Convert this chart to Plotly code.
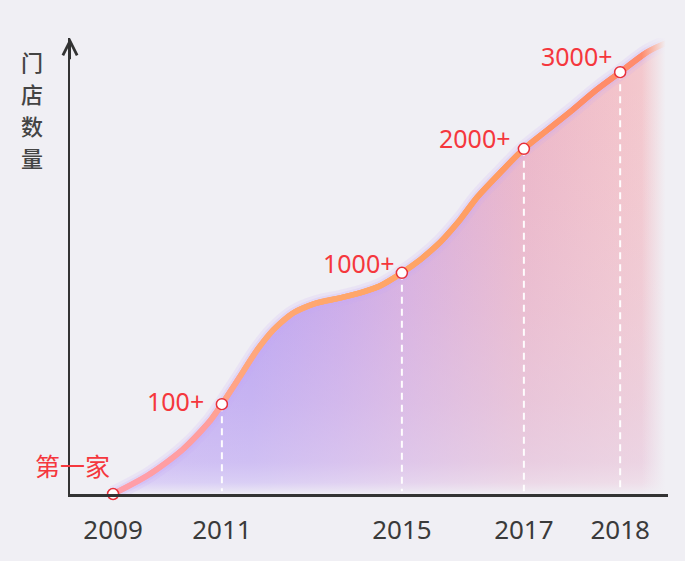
import plotly.graph_objects as go

# ---------------- data ----------------
years = ["2009", "2011", "2015", "2017", "2018"]
milestones = ["第一家", "100+", "1000+", "2000+", "3000+"]
# timeline position / display level of each milestone (0..100)
milestone_x = [7.2, 25.4, 55.5, 75.9, 92.0]
milestone_y = [0.0, 19.7, 48.5, 75.7, 92.5]

# points along the drawn growth curve
curve_x = [7.2, 13.4, 18.9, 23.4, 25.4, 28.4, 31.3, 34.0, 37.3, 41.3, 45.2, 48.5, 51.8,
           55.5, 58.5, 61.9, 65.2, 68.1, 71.9, 75.9, 79.8, 84.0, 88.0, 92.0, 96.5, 99.7]
curve_y = [0.0, 4.4, 9.8, 16.0, 19.7, 25.7, 31.6, 36.0, 39.7, 41.9, 43.0, 44.1, 45.6,
           48.5, 51.3, 55.2, 60.1, 65.1, 70.4, 75.7, 79.8, 84.2, 88.6, 92.5, 96.9, 98.9]

y_title_chars = ["门", "店", "数", "量"]

# ---------------- style ----------------
BG = "#f0eff4"
RED = "#f5373d"
AXIS = "#333333"
label_shift = [(-1, 28), (-16, 3), (-5, 10), (-11, 11), (-5, 16)]
line_stops = [(7, (255, 158, 178)), (24, (255, 158, 160)), (34, (255, 168, 118)),
              (55, (255, 166, 104)), (76, (255, 156, 98)), (92, (255, 140, 104)),
              (100, (255, 140, 110))]
FADE_START = 95.6


def lerp_color(x):
    for (x0, c0), (x1, c1) in zip(line_stops[:-1], line_stops[1:]):
        if x0 <= x <= x1:
            t = (x - x0) / (x1 - x0)
            return "rgb(%d,%d,%d)" % tuple(round(a + (b - a) * t) for a, b in zip(c0, c1))
    return "rgb(%d,%d,%d)" % line_stops[-1][1]


fig = go.Figure()

xmin, xmax = min(curve_x), max(curve_x)

# base fill: horizontal purple -> pink gradient
fig.add_trace(go.Scatter(
    x=curve_x, y=curve_y, mode="lines", line=dict(width=0, shape="spline"),
    fill="tozeroy",
    fillgradient=dict(
        type="horizontal", start=xmin, stop=xmax,
        colorscale=[[0.0, "rgb(182,156,246)"], [0.25, "rgb(178,152,242)"],
                    [0.41, "rgb(198,160,232)"], [0.52, "rgb(213,168,222)"],
                    [0.74, "rgb(236,182,200)"], [0.92, "rgb(243,196,203)"],
                    [1.0, "rgb(244,204,208)"]]),
    hoverinfo="skip", showlegend=False))

# overlay: pale wash increasing towards the bottom
fig.add_trace(go.Scatter(
    x=curve_x, y=curve_y, mode="lines", line=dict(width=0, shape="spline"),
    fill="tozeroy",
    fillgradient=dict(
        type="vertical", start=0, stop=100,
        colorscale=[[0.0, "rgba(240,239,244,0.95)"], [0.025, "rgba(236,232,246,0.68)"],
                    [0.07, "rgba(230,222,244,0.56)"], [0.2, "rgba(228,218,242,0.42)"],
                    [0.4, "rgba(228,218,242,0.25)"], [0.65, "rgba(228,218,242,0.1)"],
                    [0.9, "rgba(228,218,242,0)"], [1.0, "rgba(228,218,242,0)"]]),
    hoverinfo="skip", showlegend=False))

# soft glow along the curve
for w, c in [(16, "rgba(196,170,250,0.16)"), (10, "rgba(196,170,250,0.22)")]:
    fig.add_trace(go.Scatter(x=curve_x, y=curve_y, mode="lines",
                             line=dict(width=w, color=c, shape="spline"),
                             hoverinfo="skip", showlegend=False))

# gradient-coloured curve, drawn piecewise
n = len(curve_x)
for i in range(n - 1):
    lo, hi = max(0, i - 1), min(n, i + 3)
    xm = (curve_x[i] + curve_x[i + 1]) / 2
    fig.add_trace(go.Scatter(x=curve_x[lo:hi], y=curve_y[lo:hi], mode="lines",
                             line=dict(width=5.5, color=lerp_color(xm), shape="spline"),
                             hoverinfo="skip", showlegend=False))

# right-edge fade
top = max(curve_y) + 2
fig.add_trace(go.Scatter(
    x=[FADE_START, 100, 100, FADE_START, FADE_START], y=[0, 0, top, top, 0],
    mode="lines", line=dict(width=0), fill="toself",
    fillgradient=dict(type="horizontal", start=FADE_START, stop=99.6,
                      colorscale=[[0, "rgba(240,239,244,0)"], [1, "rgba(240,239,244,1)"]]),
    hoverinfo="skip", showlegend=False))

# dashed drop lines
for xv, yv in zip(milestone_x, milestone_y):
    if yv > 0:
        fig.add_trace(go.Scatter(x=[xv, xv], y=[yv, 0.6], mode="lines",
                                 line=dict(width=2, color="rgba(255,255,255,0.95)",
                                           dash="7px,5px"),
                                 hoverinfo="skip", showlegend=False))

# milestone markers
fig.add_trace(go.Scatter(x=milestone_x, y=milestone_y, mode="markers",
                         marker=dict(size=11, color="white",
                                     line=dict(color="#e8303a", width=1.5)),
                         cliponaxis=False, hoverinfo="skip", showlegend=False))

annotations = []
for xv, yv, t, (dx, dy) in zip(milestone_x, milestone_y, milestones, label_shift):
    annotations.append(dict(x=xv, y=yv, text=t, showarrow=False, xanchor="right",
                            yanchor="middle", xshift=dx, yshift=dy,
                            font=dict(family="Noto Sans, Noto Sans CJK SC", size=25,
                                      color=RED)))

# y-axis arrow head
annotations.append(dict(x=0, y=100, ax=0, ay=95, xref="x", yref="y", axref="x", ayref="y",
                        text="", showarrow=True, arrowhead=5, arrowsize=1.4,
                        arrowwidth=2, arrowcolor=AXIS, standoff=0))
# y-axis title, one character per line
for k, ch in enumerate(y_title_chars):
    annotations.append(dict(x=0, y=1, xref="paper", yref="paper", xshift=-38,
                            yshift=-(23 + 32 * k), text=ch, showarrow=False,
                            xanchor="center", yanchor="middle", borderpad=0,
                            font=dict(family="Noto Sans CJK SC", size=22, color="#444444",
                                      weight=500)))

fig.update_layout(
    width=685, height=561,
    margin=dict(l=70, r=17, t=38, b=67),
    paper_bgcolor=BG, plot_bgcolor=BG,
    annotations=annotations,
    xaxis=dict(range=[0, 100], showgrid=False, zeroline=False, showline=True,
               linecolor=AXIS, linewidth=3, ticks="", tickvals=milestone_x,
               ticktext=years, ticklabelstandoff=11,
               tickfont=dict(family="Noto Sans", size=26, color="#3a3a3a"),
               fixedrange=True),
    yaxis=dict(range=[0, 100], showgrid=False, zeroline=False, showline=True,
               linecolor=AXIS, linewidth=2, showticklabels=False, ticks="",
               fixedrange=True),
)

fig.write_html("out.html", config={"displayModeBar": False})

# remove the default page margin so the chart sits flush in the window
with open("out.html", "r", encoding="utf-8") as f:
    html = f.read()
html = html.replace("<body>", '<body style="margin:0;padding:0;">', 1)
with open("out.html", "w", encoding="utf-8") as f:
    f.write(html)
